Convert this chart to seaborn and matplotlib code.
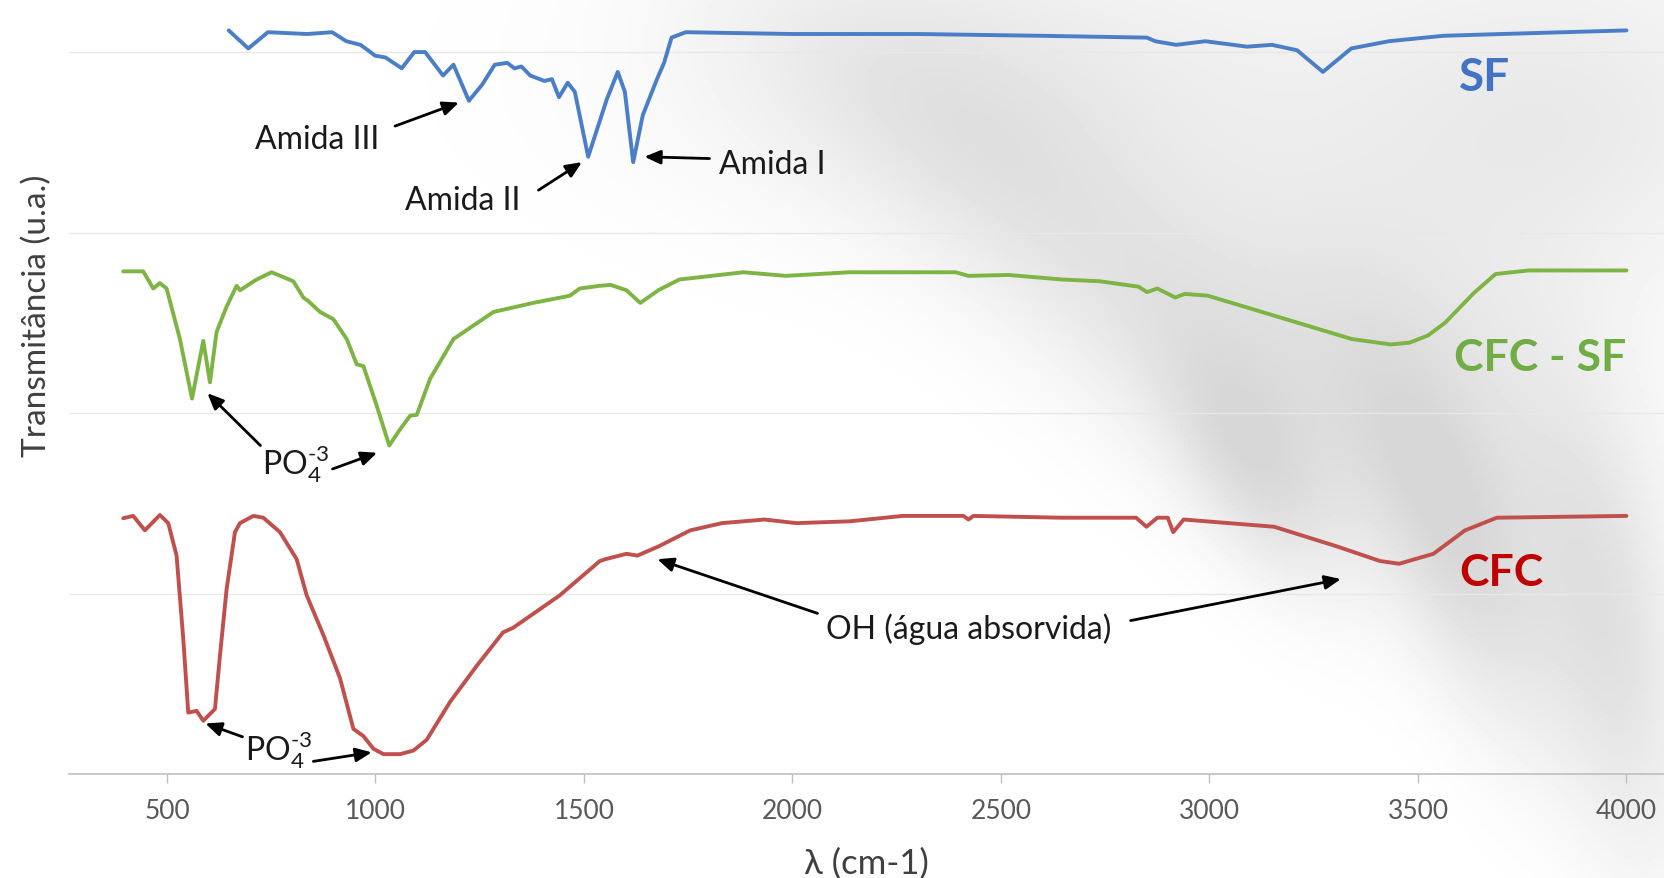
import numpy as np
import pandas as pd
import seaborn as sns
import matplotlib.pyplot as plt

# FTIR spectra (x = wavenumber, y = transmittance, stacked)
sf_x = [648, 695, 742, 836, 896, 930, 964, 982, 999, 1024, 1063, 1093, 1119, 1162, 1187,
        1224, 1256, 1286, 1316, 1333, 1350, 1371, 1405, 1423, 1440, 1461, 1478, 1510, 1555,
        1581, 1598, 1618, 1641, 1675, 1692, 1710, 1744, 2000, 2300, 2600, 2850, 2870, 2920,
        2990, 3090, 3150, 3210, 3272, 3340, 3430, 3560, 3700, 3850, 4000]
sf_y = [4.12, 4.02, 4.11, 4.10, 4.11, 4.06, 4.04, 4.01, 3.98, 3.97, 3.91, 4.00, 4.00, 3.87, 3.93,
        3.73, 3.82, 3.93, 3.94, 3.91, 3.92, 3.87, 3.84, 3.85, 3.75, 3.83, 3.78, 3.42, 3.74,
        3.89, 3.78, 3.39, 3.65, 3.85, 3.94, 4.08, 4.11, 4.10, 4.10, 4.09, 4.08, 4.06, 4.04,
        4.06, 4.03, 4.04, 4.01, 3.89, 4.02, 4.06, 4.09, 4.10, 4.11, 4.12]

cfcsf_x = [395, 443, 467, 483, 499, 531, 560, 587, 603, 619, 643, 667, 675, 715, 751, 803,
           827, 839, 867, 899, 931, 955, 971, 1003, 1033, 1059, 1083, 1099, 1131, 1187, 1283,
           1378, 1466, 1490, 1538, 1564, 1602, 1635, 1678, 1729, 1768, 1882, 1984, 2137, 2391,
           2422, 2518, 2646, 2737, 2830, 2850, 2875, 2918, 2940, 2996, 3169, 3341, 3435, 3480,
           3524, 3565, 3634, 3686, 3765, 4000]
cfcsf_y = [2.785, 2.785, 2.69, 2.72, 2.69, 2.41, 2.08, 2.40, 2.17, 2.45, 2.59, 2.705, 2.68,
           2.74, 2.78, 2.73, 2.64, 2.62, 2.56, 2.52, 2.41, 2.27, 2.26, 2.04, 1.82, 1.91, 1.985,
           1.99, 2.19, 2.41, 2.56, 2.61, 2.65, 2.69, 2.705, 2.71, 2.68, 2.61, 2.68, 2.74, 2.75,
           2.78, 2.76, 2.78, 2.78, 2.76, 2.765, 2.74, 2.73, 2.70, 2.67, 2.69, 2.64, 2.66, 2.65,
           2.53, 2.41, 2.38, 2.39, 2.43, 2.50, 2.665, 2.77, 2.79, 2.79]

cfc_x = [395, 419, 447, 483, 503, 523, 539, 551, 571, 587, 615, 627, 643, 663, 675, 707, 731,
         771, 811, 835, 875, 915, 947, 971, 995, 1019, 1059, 1091, 1123, 1179, 1243, 1306,
         1330, 1442, 1538, 1551, 1602, 1628, 1678, 1755, 1831, 1933, 2009, 2137, 2264, 2410,
         2422, 2434, 2646, 2824, 2849, 2875, 2900, 2913, 2938, 3155, 3307, 3409, 3455, 3537,
         3613, 3689, 4000]
cfc_y = [1.417, 1.43, 1.35, 1.435, 1.39, 1.21, 0.75, 0.34, 0.35, 0.295, 0.36, 0.655, 1.025,
         1.34, 1.39, 1.43, 1.42, 1.34, 1.19, 0.99, 0.77, 0.53, 0.25, 0.21, 0.14, 0.11, 0.11,
         0.13, 0.19, 0.40, 0.60, 0.785, 0.81, 0.99, 1.18, 1.19, 1.22, 1.21, 1.26, 1.35, 1.39,
         1.41, 1.39, 1.40, 1.43, 1.43, 1.41, 1.43, 1.42, 1.42, 1.37, 1.42, 1.42, 1.34, 1.41,
         1.37, 1.26, 1.18, 1.165, 1.22, 1.35, 1.42, 1.43]

series = ['SF', 'CFC - SF', 'CFC']
line_colors = ['#4A7EC7', '#7DB443', '#C0504D']
label_colors = ['#4472C4', '#70AD47', '#C00000']
xticks = [500, 1000, 1500, 2000, 2500, 3000, 3500, 4000]

df = pd.concat([
    pd.DataFrame({'x': sf_x, 'y': sf_y, 's': 'SF'}),
    pd.DataFrame({'x': cfcsf_x, 'y': cfcsf_y, 's': 'CFC - SF'}),
    pd.DataFrame({'x': cfc_x, 'y': cfc_y, 's': 'CFC'}),
])

sns.set_theme(style="white")
plt.rcParams['font.family'] = ['Lato', 'DejaVu Sans']
plt.rcParams['mathtext.fontset'] = 'custom'
plt.rcParams['mathtext.rm'] = 'Lato'
plt.rcParams['mathtext.it'] = 'Lato'

fig = plt.figure(figsize=(16.64, 8.79), dpi=100)

# faint grey "hand" watermark behind the plot (decoration only)
bg = fig.add_axes([0, 0, 1, 1], zorder=0)
px, py = np.meshgrid(np.arange(0, 1664, 4), np.arange(0, 879, 4))
shade = np.zeros(px.shape)
blobs = [  # cx, cy (pixels from top-left), sigma along, sigma across, angle deg, strength
    (1000, 70, 240, 110, 0, 0.07),
    (1080, 250, 260, 80, 40, 0.08),
    (1560, 120, 170, 130, 0, 0.08),
    (1400, 380, 190, 110, 35, 0.09),
    (1250, 470, 90, 45, 60, 0.09),
    (1460, 560, 140, 50, 70, 0.10),
    (1610, 650, 160, 50, 80, 0.10),
]
for cx, cy, sa, sc, ang, a in blobs:
    t = np.deg2rad(ang)
    u = (px - cx) * np.cos(t) + (py - cy) * np.sin(t)
    v = -(px - cx) * np.sin(t) + (py - cy) * np.cos(t)
    shade += a * np.exp(-(u ** 2 / (2 * sa ** 2) + v ** 2 / (2 * sc ** 2)))
shade = np.clip(shade, 0, 0.16)
bg.imshow(1 - shade, cmap='gray', vmin=0, vmax=1, extent=[0, 1, 0, 1], aspect='auto',
          origin='upper')
bg.set_axis_off()

ax = fig.add_axes([69 / 1664, 104 / 879, 1 - 69 / 1664, 775 / 879], zorder=1)
ax.patch.set_alpha(0)
sns.lineplot(data=df, x='x', y='y', hue='s', palette=dict(zip(series, line_colors)),
             sort=False, estimator=None, lw=2.8, legend=False, ax=ax,
             solid_joinstyle='round', solid_capstyle='round')

ax.set_xlim(265, 4090)
ax.set_ylim(0, 4.294)
ax.set_xticks(xticks)
ax.set_xticklabels([str(t) for t in xticks], fontsize=19, color='#595959')
ax.set_yticks([1, 2, 3, 4])
ax.set_yticklabels([])
ax.tick_params(axis='y', length=0)
ax.tick_params(axis='x', direction='out', length=6.5, width=1, color='#BFBFBF', pad=11,
               bottom=True)
ax.grid(axis='y', color='#E8E8E8', lw=1)
for side in ['left', 'right', 'top']:
    ax.spines[side].set_visible(False)
ax.spines['bottom'].set_color('#BFBFBF')
ax.spines['bottom'].set_linewidth(1.2)
ax.set_xlabel('λ (cm-1)', fontsize=25, color='#404040', labelpad=17)
ax.set_ylabel('')
fig.text(37 / 1664, 1 - 316 / 879, 'Transmitância (u.a.)', rotation=90, fontsize=24,
         color='#404040', ha='center', va='center')

# series labels
ax.text(3659, 3.86, 'SF', color=label_colors[0], fontsize=33, fontweight='bold',
        ha='center', va='center')
ax.text(3793, 2.31, 'CFC - SF', color=label_colors[1], fontsize=32, fontweight='bold',
        ha='center', va='center')
ax.text(3699, 1.12, 'CFC', color=label_colors[2], fontsize=32, fontweight='bold',
        ha='center', va='center')

arrow = dict(arrowstyle='-|>,head_length=0.8,head_width=0.35', color='black', lw=2,
             shrinkA=0, shrinkB=0)
fs = 23
tc = '#1a1a1a'
po4 = 'PO$_4^{\u2010 3}$'

ax.text(859, 3.52, 'Amida III', fontsize=fs, ha='center', va='center', color=tc)
ax.annotate('', xy=(1200, 3.72), xytext=(1047, 3.59), arrowprops=arrow)
ax.text(1208, 3.18, 'Amida II', fontsize=fs, ha='center', va='center', color=tc)
ax.annotate('', xy=(1495, 3.39), xytext=(1391, 3.235), arrowprops=arrow)
ax.text(1951, 3.38, 'Amida I', fontsize=fs, ha='center', va='center', color=tc)
ax.annotate('', xy=(1645, 3.42), xytext=(1801, 3.41), arrowprops=arrow)

ax.text(808, 1.72, po4, fontsize=fs, ha='center', va='center', color=tc)
ax.annotate('', xy=(597, 2.11), xytext=(724, 1.82), arrowprops=arrow)
ax.annotate('', xy=(1004, 1.78), xytext=(897, 1.69), arrowprops=arrow)

ax.text(767, 0.135, po4, fontsize=fs, ha='center', va='center', color=tc)
ax.annotate('', xy=(592, 0.28), xytext=(681, 0.206), arrowprops=arrow)
ax.annotate('', xy=(991, 0.12), xytext=(851, 0.07), arrowprops=arrow)

ax.text(2422, 0.81, 'OH (água absorvida)', fontsize=fs, ha='center', va='center', color=tc)
ax.annotate('', xy=(1676, 1.19), xytext=(2060, 0.89), arrowprops=arrow)
ax.annotate('', xy=(3315, 1.08), xytext=(2811, 0.85), arrowprops=arrow)

fig.savefig('out.png', dpi=100)
